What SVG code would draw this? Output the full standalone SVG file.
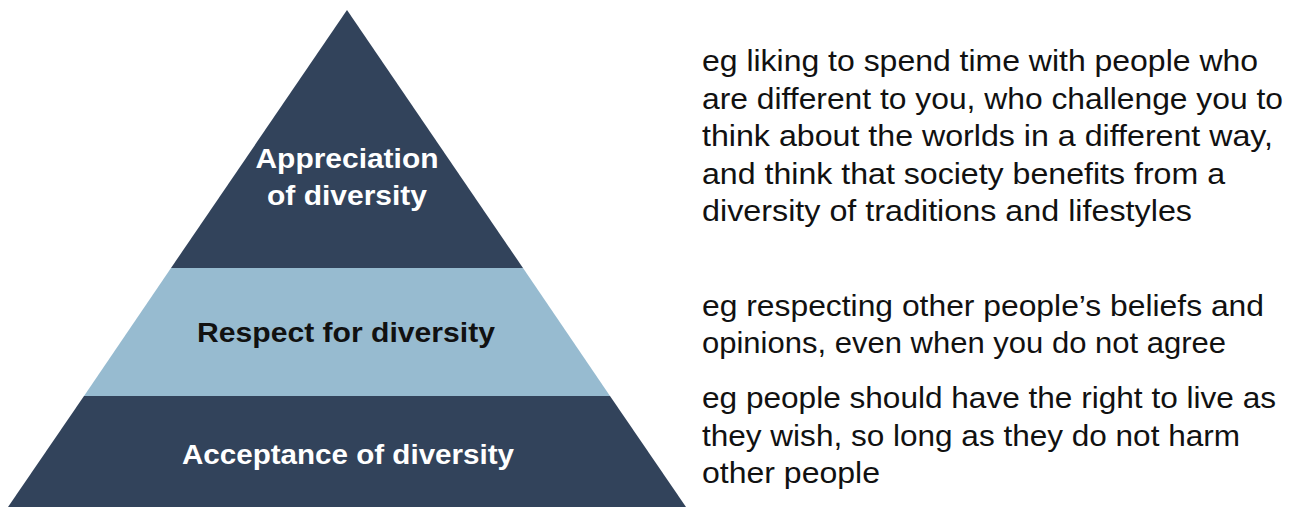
<svg xmlns="http://www.w3.org/2000/svg" width="1290" height="507" viewBox="0 0 1290 507">
<style>
.dark{fill:#32435b}
.light{fill:#97bbd0}
.lbl{font-family:"Liberation Sans",Arial,sans-serif;font-weight:bold;font-size:27px;text-anchor:middle}
.w{fill:#ffffff}
.k{fill:#111111}
.desc{font-family:"Liberation Sans",Arial,sans-serif;font-size:30px;fill:#111111}
</style>
<rect width="1290" height="507" fill="#ffffff"/>
<g id="level-top">
<polygon class="dark" points="347,10 523,268 171,268"/>
<text class="lbl w" x="347" y="168" textLength="183" lengthAdjust="spacingAndGlyphs">Appreciation</text>
<text class="lbl w" x="347" y="205" textLength="160" lengthAdjust="spacingAndGlyphs">of diversity</text>
</g>
<g id="level-middle">
<polygon class="light" points="171,268 523,268 610,396 84,396"/>
<text class="lbl k" x="346" y="342" textLength="298" lengthAdjust="spacingAndGlyphs">Respect for diversity</text>
</g>
<g id="level-bottom">
<polygon class="dark" points="84,396 610,396 686,507 8,507"/>
<text class="lbl w" x="348" y="464" textLength="332" lengthAdjust="spacingAndGlyphs">Acceptance of diversity</text>
</g>
<g id="desc-top">
<text class="desc" x="702" y="71" textLength="556" lengthAdjust="spacingAndGlyphs">eg liking to spend time with people who</text>
<text class="desc" x="702" y="109" textLength="581" lengthAdjust="spacingAndGlyphs">are different to you, who challenge you to</text>
<text class="desc" x="702" y="146" textLength="571" lengthAdjust="spacingAndGlyphs">think about the worlds in a different way,</text>
<text class="desc" x="702" y="184" textLength="523" lengthAdjust="spacingAndGlyphs">and think that society benefits from a</text>
<text class="desc" x="702" y="221" textLength="490" lengthAdjust="spacingAndGlyphs">diversity of traditions and lifestyles</text>
</g>
<g id="desc-middle">
<text class="desc" x="702" y="316" textLength="562" lengthAdjust="spacingAndGlyphs">eg respecting other people’s beliefs and</text>
<text class="desc" x="702" y="353" textLength="524" lengthAdjust="spacingAndGlyphs">opinions, even when you do not agree</text>
</g>
<g id="desc-bottom">
<text class="desc" x="702" y="408" textLength="574" lengthAdjust="spacingAndGlyphs">eg people should have the right to live as</text>
<text class="desc" x="702" y="446" textLength="538" lengthAdjust="spacingAndGlyphs">they wish, so long as they do not harm</text>
<text class="desc" x="702" y="483" textLength="178" lengthAdjust="spacingAndGlyphs">other people</text>
</g>
<g id="connectors"></g>
</svg>
